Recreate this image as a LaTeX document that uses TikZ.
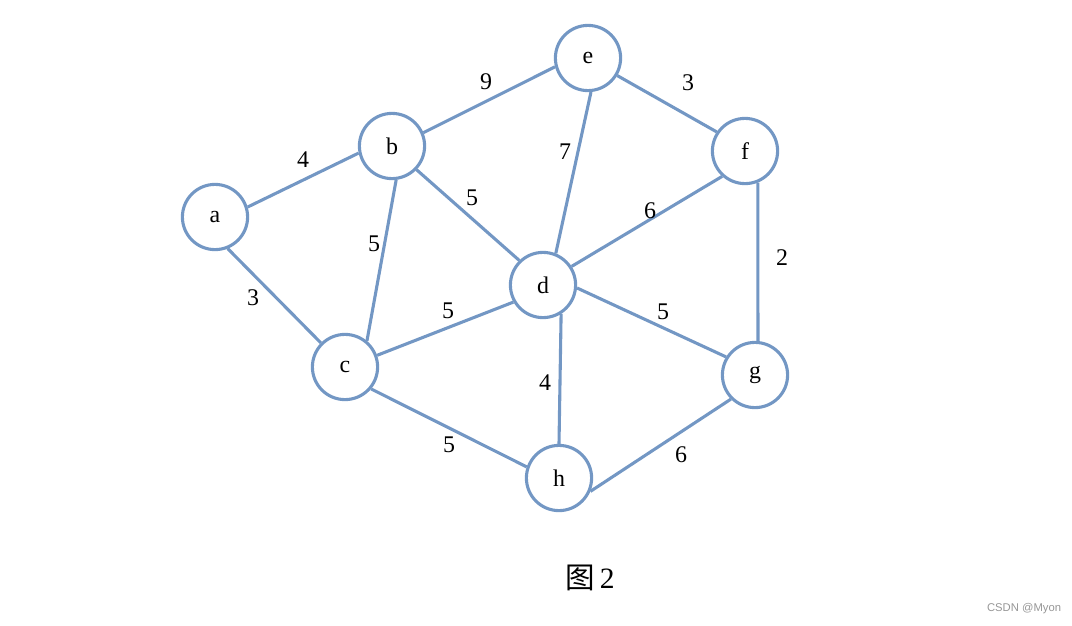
\documentclass[tikz,border=0pt]{standalone}
\usepackage{fontspec}
\setmainfont{Liberation Serif}
\newfontfamily\cjkfont{Noto Sans CJK SC}
\newfontfamily\wmfont{Liberation Sans}
\usepackage{xcolor}
\definecolor{edgeblue}{RGB}{115,151,196}
\definecolor{wmgray}{RGB}{150,150,150}
\usetikzlibrary{calc}

\begin{document}
\begin{tikzpicture}[x=0.025cm,y=-0.025cm]
  \tikzstyle{vertex}=[circle,draw=edgeblue,line width=2.2pt,minimum size=1.63cm,inner sep=0pt,font=\fontsize{17}{20}\selectfont]
  \tikzstyle{link}=[draw=edgeblue,line width=2.2pt]
  \tikzstyle{weight}=[inner sep=1pt,font=\fontsize{17}{20}\selectfont]
  \useasboundingbox (0,0) rectangle (1072,625);
  % vertices
  \node[vertex] (a) at (215,217) {a};
  \node[vertex] (b) at (392,146) {b};
  \node[vertex] (e) at (588,58) {e};
  \node[vertex] (f) at (745,151) {f};
  \node[vertex] (d) at (543,285) {d};
  \node[vertex] (c) at (345,367) {c};
  \node[vertex] (g) at (755,375) {g};
  \node[vertex] (h) at (559,478) {h};
  % edges (hand placed ends, as in the original)
  \draw[link] (a.17) -- (b.192);
  \draw[link] (a.-68) -- (c.135);
  \draw[link] (b.23) -- (e.195);
  \draw[link] (b.-83) -- (c.50);
  \draw[link] (b.-44) -- (d.134);
  \draw[link] (e.-31) -- (f.146);
  \draw[link] (e.-85) -- (d.68);
  \draw[link] (f.-132) -- (d.33);
  \draw[link] (f.-68) -- (g.85);
  \draw[link] (c.20) -- (d.210);
  \draw[link] (d.-5) -- (g.148);
  \draw[link] (d.-58) -- (h.90);
  \draw[link] (c.-40) -- (h.161);
  \draw[link] (h.-23) -- (g.225);
  % weights
  \node[weight] (wab) at (303,160) {4};
  \node[weight] (wac) at (253,298) {3};
  \node[weight] (wbe) at (486,82) {9};
  \node[weight] (wbc) at (374,244) {5};
  \node[weight] (wbd) at (472,198) {5};
  \node[weight] (wef) at (688,83) {3};
  \node[weight] (wed) at (565,152) {7};
  \node[weight] (wfd) at (650,211) {6};
  \node[weight] (wfg) at (782,258) {2};
  \node[weight] (wcd) at (448,311) {5};
  \node[weight] (wdg) at (663,312) {5};
  \node[weight] (wdh) at (545,383) {4};
  \node[weight] (wch) at (449,445) {5};
  \node[weight] (whg) at (681,455) {6};
  % caption and mark
  \node[font=\fontsize{21}{24}\selectfont] (cap) at (590,578) {{\cjkfont 图}\,2};
  \node[font=\wmfont\fontsize{8}{10}\selectfont,text=wmgray,anchor=east] (mark) at (1066,609) {CSDN @Myon};
\end{tikzpicture}
\end{document}
